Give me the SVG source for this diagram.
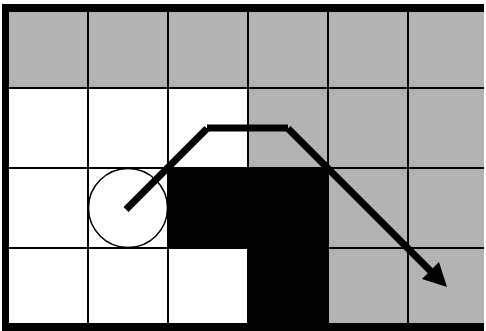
<svg xmlns="http://www.w3.org/2000/svg" width="486" height="331" viewBox="0 0 486 331">
  <style>
    .gray { fill: #b3b3b3; }
    .grid { stroke: #000; stroke-width: 2; fill: none; }
    .path { stroke: #000; stroke-width: 7; stroke-linecap: butt; fill: none; }
  </style>
  <rect x="0" y="0" width="486" height="331" fill="#fff"/>
  <g id="cells">
    <rect class="gray" x="9" y="12" width="475" height="76"/>
    <rect class="gray" x="248" y="88" width="236" height="80"/>
    <rect class="gray" x="328" y="168" width="156" height="155"/>
  </g>
  <g id="gridlines" class="grid">
    <path d="M88,12V323M168,12V323M248,12V323M328,12V323M408,12V323"/>
    <path d="M9,88H484M9,168H484M9,248H484"/>
  </g>
  <path id="obstacle" d="M167,167H329V323H247V249H167Z" fill="#000"/>
  <g id="border" fill="#000">
    <rect x="2" y="4" width="7" height="327"/>
    <rect x="2" y="4" width="482" height="8"/>
    <rect x="2" y="323" width="482" height="8"/>
  </g>
  <circle id="robot" cx="128" cy="208" r="39.5" fill="none" stroke="#000" stroke-width="1.5"/>
  <g id="connectors">
    <line class="path" x1="126" y1="209.5" x2="207" y2="128.5"/>
    <line class="path" x1="207" y1="128" x2="288" y2="128"/>
    <line class="path" x1="288" y1="128.5" x2="432" y2="272.5"/>
    <polygon points="447,287 422,279 439,262" fill="#000"/>
  </g>
</svg>
